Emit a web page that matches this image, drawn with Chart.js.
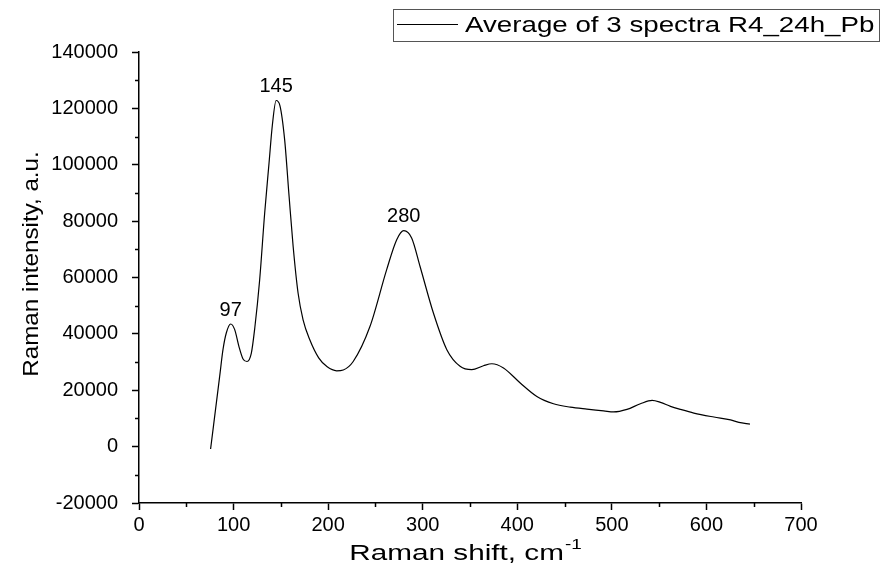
<!DOCTYPE html>
<html>
<head>
<meta charset="utf-8">
<script src="https://cdn.jsdelivr.net/npm/chart.js@4"></script>
<style>
  html, body { margin: 0; padding: 0; background: #fff; }
  #wrap { width: 884px; height: 575px; }
</style>
</head>
<body>
<div id="wrap"><canvas id="chart" width="884" height="575"></canvas></div>
<script>
// Raman spectrum, average of 3 spectra
const shift = [75.7, 85.3, 88.8, 92.3, 97, 101.2, 105.7, 110, 114.2, 118.8, 122.4, 127.6, 132.9, 137.5, 141,
  145, 149, 154, 158.7, 163, 168.2, 173.5, 180.6, 190, 199, 209, 216, 226.5, 244.2, 261.9, 272.5,
  280, 288.3, 297.2, 311.3, 325.5, 339.5, 351.9, 364.2, 373.1, 385.4, 403.1, 420.7, 438.3, 456,
  473.6, 491.3, 501.9, 516, 530.2, 542.6, 551.4, 562, 572.6, 586.7, 607.9, 625.5, 634.3, 646]
const intensity = [-850, 24900, 34400, 40300, 43500, 41500, 35500, 31100, 30200, 33200, 42000, 59200, 82900, 100600, 114000,
  122800, 121000, 108900, 88800, 71000, 54500, 45000, 37900, 31500, 28300, 26900, 27200, 30200, 42600, 62800, 73400,
  76600, 74000, 63900, 47400, 34400, 28500, 27300, 28700, 29400, 27900, 22600, 17800, 15200, 14000,
  13300, 12700, 12300, 13200, 15200, 16400, 15700, 14300, 13200, 11900, 10500, 9500, 8600, 8000]

const peakLabels = [97, 145, 280]
const xTicks = [0, 100, 200, 300, 400, 500, 600, 700]
const yTicks = [-20000, 0, 20000, 40000, 60000, 80000, 100000, 120000, 140000]

const seriesName = 'Average of 3 spectra R4_24h_Pb'
const fontFamily = '"Liberation Sans", Arial, sans-serif'

const points = shift.map((x, i) => ({ x: x, y: intensity[i] }))

// text drawn a little wider than the font's own metrics
const wideText = (ctx, text, x, y, size, stretch) => {
  ctx.save()
  ctx.font = size + 'px ' + fontFamily
  ctx.translate(x, y)
  ctx.scale(stretch, 1)
  ctx.fillText(text, 0, 0)
  ctx.restore()
  return ctx.measureText(text).width * stretch
}

// minor ticks, axis titles, peak labels and framed legend
const extras = {
  id: 'extras',
  afterDraw(chart) {
    const ctx = chart.ctx
    const xs = chart.scales.x
    const ys = chart.scales.y
    const area = chart.chartArea
    ctx.save()
    ctx.strokeStyle = '#000'
    ctx.lineWidth = 1.5
    ctx.beginPath()
    for (let i = 0; i < xTicks.length - 1; i++) {
      const px = Math.round(xs.getPixelForValue((xTicks[i] + xTicks[i + 1]) / 2)) + 0.5
      ctx.moveTo(px, area.bottom)
      ctx.lineTo(px, area.bottom + 4)
    }
    for (let i = 0; i < yTicks.length - 1; i++) {
      const py = Math.round(ys.getPixelForValue((yTicks[i] + yTicks[i + 1]) / 2)) + 0.5
      ctx.moveTo(area.left, py)
      ctx.lineTo(area.left - 4, py)
    }
    ctx.stroke()

    ctx.fillStyle = '#000'
    ctx.textAlign = 'center'
    ctx.textBaseline = 'middle'

    // peak positions
    ctx.font = '20px ' + fontFamily
    peakLabels.forEach(p => {
      const i = shift.indexOf(p)
      const px = xs.getPixelForValue(p)
      const py = ys.getPixelForValue(intensity[i])
      ctx.fillText(String(p), px, py - 14)
    })

    // y title
    ctx.save()
    ctx.translate(32, 264)
    ctx.rotate(-Math.PI / 2)
    wideText(ctx, 'Raman intensity, a.u.', 0, 0, 22, 1.1)
    ctx.restore()

    // x title with superscript
    const main = 'Raman shift, cm'
    const sup = '-1'
    const stretch = 1.35
    ctx.font = '22px ' + fontFamily
    const wMain = ctx.measureText(main).width * stretch
    ctx.font = '14px ' + fontFamily
    const wSup = ctx.measureText(sup).width * stretch
    const startX = 465 - (wMain + wSup) / 2
    ctx.textAlign = 'left'
    wideText(ctx, main, startX, 554, 22, stretch)
    wideText(ctx, sup, startX + wMain + 1, 545, 14, stretch)

    // legend box
    ctx.strokeStyle = '#555'
    ctx.lineWidth = 1
    ctx.strokeRect(393.5, 9.5, 486, 32)
    ctx.strokeStyle = '#000'
    ctx.lineWidth = 1.2
    ctx.beginPath()
    ctx.moveTo(397, 24.5)
    ctx.lineTo(458, 24.5)
    ctx.stroke()
    wideText(ctx, seriesName, 465, 26, 22, 1.26)
    ctx.restore()
  }
}

new Chart(document.getElementById('chart'), {
  type: 'scatter',
  data: {
    datasets: [{
      label: seriesName,
      data: points,
      showLine: true,
      borderColor: '#000',
      borderWidth: 1.2,
      pointRadius: 0,
      cubicInterpolationMode: 'monotone'
    }]
  },
  options: {
    responsive: false,
    animation: false,
    layout: { padding: { top: 52, right: 83, left: 0, bottom: 0 } },
    plugins: {
      legend: { display: false },
      tooltip: { enabled: false }
    },
    scales: {
      x: {
        type: 'linear',
        min: 0,
        max: 700,
        afterBuildTicks: scale => { scale.ticks = xTicks.map(v => ({ value: v })) },
        afterFit: scale => { scale.height = 72 },
        grid: { drawOnChartArea: false, tickLength: 7, tickColor: '#000', tickWidth: 1.5 },
        border: { color: '#000', width: 1.5 },
        ticks: { color: '#000', font: { family: fontFamily, size: 20 }, padding: 3, maxRotation: 0 }
      },
      y: {
        min: -20000,
        max: 140000,
        afterBuildTicks: scale => { scale.ticks = yTicks.map(v => ({ value: v })) },
        afterFit: scale => { scale.width = 139 },
        grid: { drawOnChartArea: false, tickLength: 7, tickColor: '#000', tickWidth: 1.5 },
        border: { color: '#000', width: 1.5 },
        ticks: { color: '#000', font: { family: fontFamily, size: 20 }, padding: 14, callback: v => String(v) }
      }
    }
  },
  plugins: [extras]
})
</script>
</body>
</html>
